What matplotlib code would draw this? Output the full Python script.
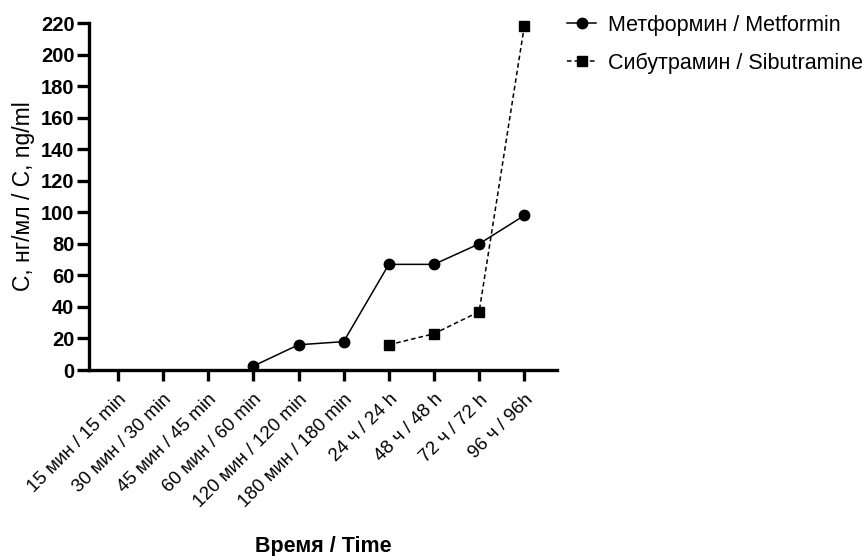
import matplotlib

matplotlib.use("Agg")
import matplotlib.pyplot as plt  # noqa: E402
import numpy as np  # noqa: E402

plt.rcParams["font.family"] = ["Liberation Sans", "DejaVu Sans"]

time_labels = [
    "15 мин / 15 min",
    "30 мин / 30 min",
    "45 мин / 45 min",
    "60 мин / 60 min",
    "120 мин / 120 min",
    "180 мин / 180 min",
    "24 ч / 24 h",
    "48 ч / 48 h",
    "72 ч / 72 h",
    "96 ч / 96h",
]
metformin = [np.nan, np.nan, np.nan, 2.5, 16, 18, 67, 67, 80, 98]
sibutramine = [np.nan, np.nan, np.nan, np.nan, np.nan, np.nan, 16, 23, 37, 218]
y_ticks = list(range(0, 221, 20))

fig = plt.figure(figsize=(8.68, 5.56), dpi=100)
ax = fig.add_axes([0.1025, 0.3345, 0.5395, 0.624])

x = np.arange(len(time_labels))
ax.plot(x, metformin, color="black", linewidth=1.1, marker="o", markersize=7.5,
        label="Метформин / Metformin", clip_on=False, zorder=3)
ax.plot(x, sibutramine, color="black", linewidth=1.1, linestyle=(0, (3, 2)),
        marker="s", markersize=7.5, label="Сибутрамин / Sibutramine",
        clip_on=False, zorder=3)

ax.set_xlim(-0.64, 9.73)
ax.set_ylim(0, 220)
ax.set_yticks(y_ticks)
ax.set_xticks(x)
ax.set_xticklabels(time_labels, rotation=45, ha="right", rotation_mode="anchor",
                   fontsize=13.5)
for lbl in ax.get_yticklabels():
    lbl.set_fontweight("bold")
    lbl.set_fontsize(14.5)

for side in ("top", "right"):
    ax.spines[side].set_visible(False)
for side in ("left", "bottom"):
    ax.spines[side].set_linewidth(2.4)
ax.tick_params(axis="y", length=8.5, width=2.4, pad=2)
ax.tick_params(axis="x", length=8, width=2.4, pad=7)

ax.set_ylabel("С, нг/мл / C, ng/ml", fontsize=16.5, labelpad=4)
ax.set_xlabel("Время / Time", fontsize=15.5, fontweight="bold", labelpad=18)

fig.legend(loc="upper left", bbox_to_anchor=(0.631, 1.008), frameon=False,
           fontsize=15.5, handlelength=1.35, handletextpad=0.55, labelspacing=0.78)

fig.savefig("out.png", dpi=100)
plt.close(fig)
